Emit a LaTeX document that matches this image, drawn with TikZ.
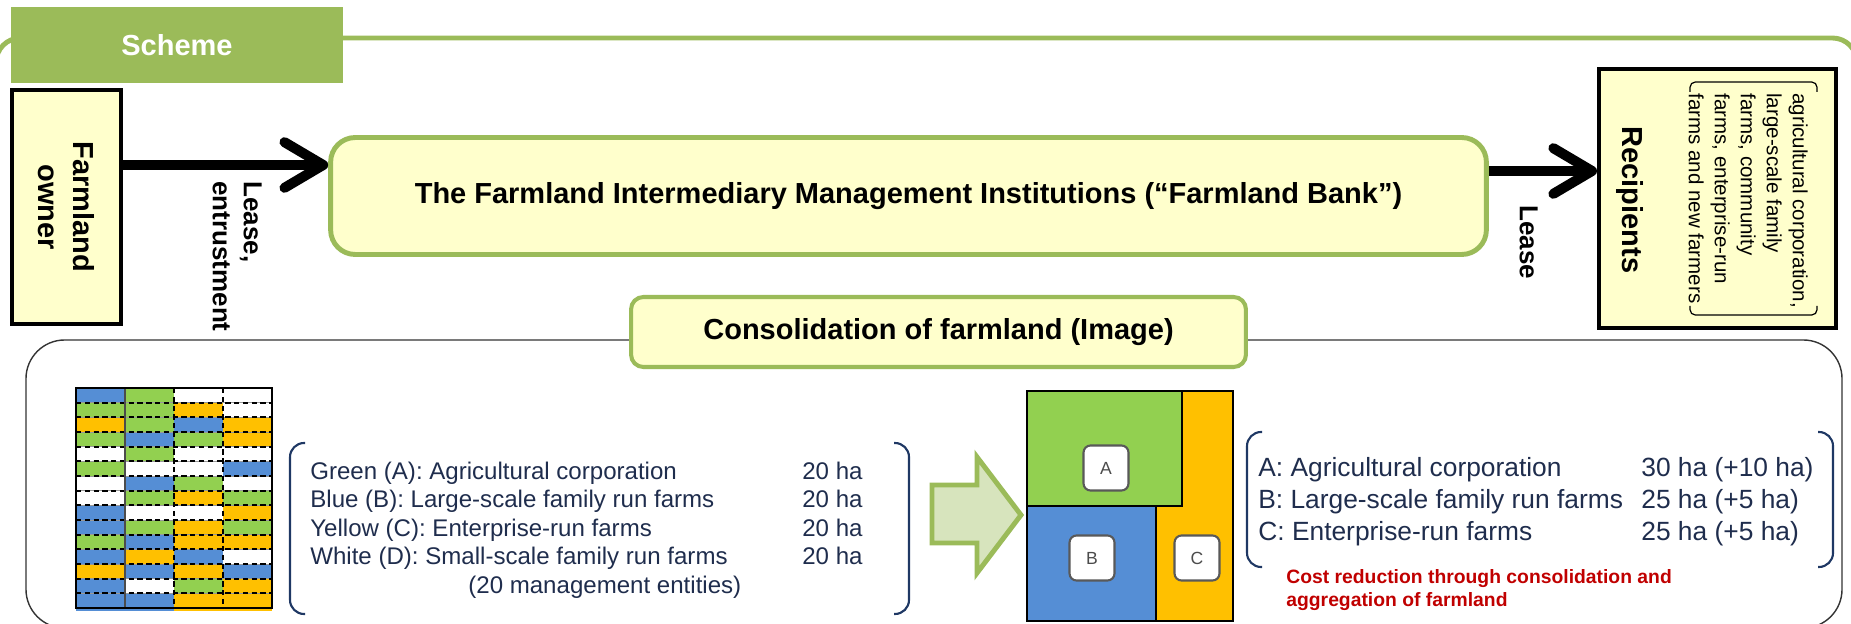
\documentclass[tikz,border=0pt]{standalone}
\usepackage{fontspec}
\setmainfont{Liberation Sans}
\usepackage{tikz}
\usetikzlibrary{arrows.meta}

\definecolor{schemegreen}{HTML}{9BBB59}
\definecolor{boxyellow}{HTML}{FFFFCC}
\definecolor{arrowgreen}{HTML}{D7E4BD}
\definecolor{farmA}{HTML}{92D050}
\definecolor{farmB}{HTML}{558ED5}
\definecolor{farmC}{HTML}{FFC000}
\definecolor{farmD}{HTML}{FFFFFF}
\definecolor{navytext}{HTML}{1F2D4D}
\definecolor{bracketblue}{HTML}{1F3864}
\definecolor{costred}{HTML}{C00000}

\begin{document}
\begin{tikzpicture}[x=0.02cm, y=-0.02cm,
    blackbox/.style={draw=black, line width=2.3pt, fill=boxyellow},
    greenbox/.style={draw=schemegreen, line width=2.8pt, fill=boxyellow},
    bigtext/.style={font=\bfseries\fontsize{16.5}{20}\selectfont},
    leaselabel/.style={font=\bfseries\fontsize{14.8}{17.6}\selectfont, rotate=-90, anchor=north west, inner sep=0pt, align=left},
    flow/.style={line width=5.7pt, -{Straight Barb[length=22pt, width=26pt, round]}},
    beforeline/.style={font=\fontsize{13.7}{16}\selectfont, text=navytext, anchor=base west, inner sep=0pt},
    afterline/.style={font=\fontsize{15}{18}\selectfont, text=navytext, anchor=base west, inner sep=0pt},
    bracket/.style={draw=bracketblue, line width=1.2pt, rounded corners=8pt},
    plotlabel/.style={draw=black!65, line width=1.2pt, fill=white, rounded corners=4pt, minimum size=0.9cm, font=\fontsize{10}{12}\selectfont, text=black!70}]
    \useasboundingbox (0,0) rectangle (1851,624);

    % frames
    \draw[schemegreen, line width=2.8pt, rounded corners=14pt] (-4,38) rectangle (1857,800);
    \draw[black!80, line width=0.8pt, rounded corners=22pt] (26,340) rectangle (1842,628);
    \node [fill=schemegreen, minimum width=6.64cm, minimum height=1.52cm, bigtext, text=white] (scheme) at (177,45) {Scheme};

    % scheme
    \node [blackbox, minimum width=2.18cm, minimum height=4.68cm] (owner) at (66.5,207) {};
    \node [bigtext, rotate=-90, align=center] (ownertext) at (owner) {Farmland\\owner};
    \node [greenbox, rounded corners=14pt, minimum width=23.12cm, minimum height=2.34cm, bigtext] (bank) at (908.5,196) {The Farmland Intermediary Management Institutions (“Farmland Bank”)};
    \node [blackbox, minimum width=4.74cm, minimum height=5.18cm] (recip) at (1717.5,198.5) {};
    \node [bigtext, rotate=-90] (reciptext) at (1630,200) {Recipients};
    \node [font=\fontsize{11.7}{14.8}\selectfont, rotate=-90, anchor=north west, inner sep=0pt, align=left] (recipkinds) at (1808,93) {agricultural corporation,\\large-scale family\\farms, community\\farms, enterprise-run\\farms and new farmers};
    \draw[line width=0.7pt, rounded corners=3pt] (1690,92) -- (1690,82) -- (1817,82) -- (1817,92);
    \draw[line width=0.7pt, rounded corners=3pt] (1690,306) -- (1690,315) -- (1817,315) -- (1817,306);

    \coordinate (leaseL) at (0,165);
    \coordinate (leaseR) at (0,171);
    \draw[flow] (owner.east |- leaseL) -- (bank.west |- leaseL);
    \draw[flow] (bank.east |- leaseR) -- (recip.west |- leaseR);
    \node [leaselabel] (leasein) at (262,181) {Lease,\\entrustment};
    \node [leaselabel] (leaseout) at (1538,205) {Lease};

    % consolidation
    \node [greenbox, line width=2.3pt, rounded corners=7pt, minimum width=12.3cm, minimum height=1.4cm, bigtext] (consol) at (938.5,332) {Consolidation of farmland (Image)};

    \foreach \cells [count=\r] in {{B,A,D,D},{A,A,C,D},{C,A,B,C},{A,B,A,C},{D,A,D,D},{A,D,D,B},{D,B,A,D},{D,A,C,A},{B,D,D,C},{B,A,C,A},{A,B,C,C},{B,C,B,D},{C,B,C,B},{B,D,A,C},{B,B,C,C}}
        \foreach \c [count=\k] in \cells
            \fill[farm\c] ({76+49*(\k-1)},{388+14.667*(\r-1)}) rectangle +(49,14.667);
    \fill[farmB] (76,609) rectangle (174,611);
    \fill[farmC] (174,609) rectangle (272,611);
    \foreach \r in {1,...,14} {
        \draw[black!40, line width=0.5pt] (76,{388+14.667*\r}) -- (272,{388+14.667*\r});
        \draw[line width=1pt, dash pattern=on 3pt off 2pt] (76,{388+14.667*\r}) -- (272,{388+14.667*\r});
    }
    \draw[black!70, line width=0.6pt] (125,388) -- (125,608);
    \draw[line width=0.8pt, dash pattern=on 3pt off 2pt] (174,388) -- (174,608);
    \draw[line width=1.2pt, dash pattern=on 3pt off 2pt] (223,388) -- (223,608);
    \draw[line width=0.8pt] (76,388) rectangle (272,608);

    \foreach \txt [count=\i] in {Green (A): Agricultural corporation, Blue (B): Large-scale family run farms, Yellow (C): Enterprise-run farms, White (D): Small-scale family run farms} {
        \node [beforeline] (before\i) at (310,{450.5+28.5*\i}) {\txt};
        \node [beforeline] (beforeha\i) at (802,{450.5+28.5*\i}) {20 ha};
    }
    \node [beforeline] (entities) at (468,593) {(20 management entities)};
    \draw[bracket] (305,443) -- (290,443) -- (290,614) -- (305,614);
    \draw[bracket] (894,443) -- (909,443) -- (909,614) -- (894,614);

    \draw[schemegreen, line width=2.8pt, fill=arrowgreen] (932,485) -- (977,485) -- (977,457) -- (1021,515) -- (977,573) -- (977,543) -- (932,543) -- cycle;

    \fill[farmC] (1027,391) rectangle (1233,621);
    \draw[line width=0.6pt, fill=farmA] (1027,391) rectangle (1182,506);
    \draw[line width=0.6pt, fill=farmB] (1027,506) rectangle (1156,621);
    \draw[line width=0.8pt] (1027,391) rectangle (1233,621);
    \node [plotlabel] (labelA) at (1106,468) {A};
    \node [plotlabel] (labelB) at (1092,558) {B};
    \node [plotlabel] (labelC) at (1197,558) {C};

    \foreach \txt/\ha [count=\i] in {A: Agricultural corporation/30 ha (+10 ha), B: Large-scale family run farms/25 ha (+5 ha), C: Enterprise-run farms/25 ha (+5 ha)} {
        \node [afterline] (after\i) at (1258,{444+32*\i}) {\txt};
        \node [afterline] (afterha\i) at (1641,{444+32*\i}) {\ha};
    }
    \draw[bracket] (1262,432) -- (1247,432) -- (1247,567) -- (1262,567);
    \draw[bracket] (1818,432) -- (1833,432) -- (1833,567) -- (1818,567);
    \node [font=\bfseries\fontsize{11}{13}\selectfont, text=costred, anchor=north west, inner sep=0pt, align=left] (cost) at (1286,569) {Cost reduction through consolidation and\\aggregation of farmland};
\end{tikzpicture}
\end{document}
